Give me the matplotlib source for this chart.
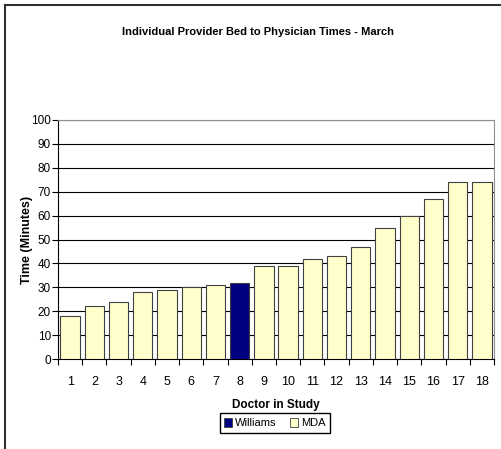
import matplotlib.pyplot as plt
from matplotlib.lines import Line2D
from matplotlib.patches import Patch
import numpy as np

plt.rcParams['font.family'] = ['Liberation Sans', 'DejaVu Sans']

doctors = [str(i) for i in range(1, 19)]
times = [18, 22, 24, 28, 29, 30, 31, 32, 39, 39, 42, 43, 47, 55, 60, 67, 74, 74]
highlight = '8'  # Williams
y_ticks = list(range(0, 101, 10))

W, H = 502, 449
fig = plt.figure(figsize=(W / 100, H / 100), dpi=100)

# plot area in pixels: left 58, right 494, top 120, bottom 359
ax = fig.add_axes([58 / W, 1 - 359 / H, (494 - 58) / W, (359 - 120) / H])

x = np.arange(len(doctors))
colors = ['#000080' if d == highlight else '#FFFFCC' for d in doctors]
ax.bar(x, times, width=0.8, color=colors, edgecolor='#404040', linewidth=0.8, zorder=3)

ax.set_xlim(-0.5, len(doctors) - 0.5)
ax.set_ylim(0, 100)
ax.set_yticks(y_ticks)
ax.set_yticklabels([str(t) for t in y_ticks], fontsize=8.5)
ax.yaxis.grid(True, color='black', linewidth=0.8, zorder=0)

# x ticks between categories, labels centered under bars
ax.set_xticks(np.arange(-0.5, len(doctors)), minor=False)
ax.set_xticklabels([])
ax.set_xticks(x, minor=True)
ax.set_xticklabels(doctors, minor=True, fontsize=9)
ax.tick_params(axis='x', which='minor', length=0, pad=12)
ax.tick_params(axis='x', which='major', length=4, direction='out', width=0.8)
ax.tick_params(axis='y', length=4, direction='out', width=0.8, pad=1)

ax.spines['left'].set_color('black')
ax.spines['bottom'].set_color('black')
ax.spines['top'].set_color('#909090')
ax.spines['right'].set_color('#909090')

ax.set_ylabel('Time (Minutes)', fontsize=9, fontweight='bold')
ax.yaxis.set_label_coords(-25 / 436, 0.5)
ax.set_xlabel('Doctor in Study', fontsize=8.5, fontweight='bold', labelpad=8)

fig.text(258 / W, 1 - 32 / H, 'Individual Provider Bed to Physician Times - March',
         ha='center', va='center', fontsize=8, fontweight='bold')

handles = [Patch(facecolor='#000080', edgecolor='#404040', linewidth=0.6, label='Williams'),
           Patch(facecolor='#FFFFCC', edgecolor='#404040', linewidth=0.6, label='MDA')]
fig.legend(handles=handles, loc='center', bbox_to_anchor=(275 / W, 1 - 423 / H), ncol=2,
           fontsize=8, frameon=True, fancybox=False, edgecolor='black', framealpha=1,
           handlelength=0.7, handleheight=0.9, handletextpad=0.3, columnspacing=1.2,
           borderpad=0.4)

# outer chart frame (left and top edges visible)
fig.add_artist(Line2D([4.5 / W, 4.5 / W], [0, 1 - 4.5 / H], color='#303030', linewidth=1.5))
fig.add_artist(Line2D([4.5 / W, 1], [1 - 4.5 / H, 1 - 4.5 / H], color='#303030', linewidth=1.5))

fig.savefig('out.png', dpi=100)
